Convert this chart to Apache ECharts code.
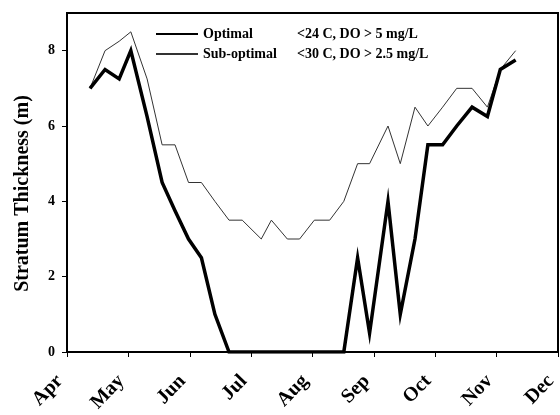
<!DOCTYPE html>
<html>
<head>
<meta charset="utf-8">
<script src="https://cdn.jsdelivr.net/npm/echarts@6/dist/echarts.min.js"></script>
<style>html,body{margin:0;padding:0;background:#fff}#c{width:560px;height:415px}</style>
</head>
<body>
<div id="c"></div>
<script>
// Month tick labels (axis value 0 = Apr, 1 = May, ...)
var months = ['Apr', 'May', 'Jun', 'Jul', 'Aug', 'Sep', 'Oct', 'Nov', 'Dec'];
// Sampling dates, in months after start of April
var sampleDates = [0.375, 0.62, 0.85, 1.04, 1.305, 1.55, 1.76, 1.98, 2.19, 2.41, 2.64,
  2.855, 3.165, 3.33, 3.59, 3.79, 4.03, 4.28, 4.51, 4.735, 4.93, 5.23, 5.43, 5.67,
  5.88, 6.12, 6.35, 6.6, 6.85, 7.06, 7.31];
// Optimal stratum thickness (m)
var optimalValues = [7.0, 7.5, 7.25, 8.0, 6.25, 4.5, 3.75, 3.0, 2.5, 1.0, 0,
  0, 0, 0, 0, 0, 0, 0, 0, 2.5, 0.5, 4.0, 1.0, 3.0,
  5.5, 5.5, 6.0, 6.5, 6.25, 7.5, 7.75];
// Sub-optimal stratum thickness (m)
var subOptimalValues = [7.0, 8.0, 8.25, 8.5, 7.25, 5.5, 5.5, 4.5, 4.5, 4.0, 3.5,
  3.5, 3.0, 3.5, 3.0, 3.0, 3.5, 3.5, 4.0, 5.0, 5.0, 6.0, 5.0, 6.5,
  6.0, 6.5, 7.0, 7.0, 6.5, 7.5, 8.0];
var seriesNames = ['Optimal', 'Sub-optimal'];
var conditions = ['<24 C, DO > 5 mg/L', '<30 C, DO > 2.5 mg/L'];
var yTicks = [0, 2, 4, 6, 8];

function pairs(xs, ys) { return xs.map(function (x, i) { return [x, ys[i]]; }); }

var font = '"Liberation Serif", "DejaVu Serif", serif';
var chart = echarts.init(document.getElementById('c'), null, { renderer: 'canvas' });
chart.setOption({
  animation: false,
  backgroundColor: '#fff',
  grid: { left: 67, right: 2, top: 13, bottom: 63, outerBoundsMode: 'none', containLabel: false,
    show: true, borderColor: '#000', borderWidth: 2, backgroundColor: 'transparent' },
  legend: {
    orient: 'vertical', left: 150, top: 22, itemWidth: 42, itemHeight: 12, itemGap: 6,
    data: seriesNames,
    itemStyle: { opacity: 0 },
    formatter: function (name) {
      return '{a|' + name + '}{b|' + conditions[seriesNames.indexOf(name)] + '}';
    },
    textStyle: {
      fontFamily: font, fontWeight: 'bold', fontSize: 14, color: '#000',
      rich: {
        a: { width: 94, fontFamily: font, fontWeight: 'bold', fontSize: 14, color: '#000' },
        b: { fontFamily: font, fontWeight: 'bold', fontSize: 14, color: '#000' }
      }
    }
  },
  xAxis: {
    type: 'value', min: 0, max: 8, interval: 1,
    axisLine: { show: true, lineStyle: { color: '#000', width: 2 } },
    axisTick: { show: true, inside: false, length: 5, lineStyle: { color: '#000', width: 1 } },
    splitLine: { show: false },
    axisLabel: {
      rotate: 46, margin: 33, verticalAlign: 'bottom',
      fontFamily: font, fontWeight: 'bold', fontSize: 20, color: '#000',
      formatter: function (v) { return months[Math.round(v)] || ''; }
    }
  },
  yAxis: {
    type: 'value', min: 0, max: 9, interval: 2,
    name: 'Stratum Thickness (m)', nameLocation: 'middle', nameGap: 34, nameRotate: 90,
    nameTextStyle: { fontFamily: font, fontWeight: 'bold', fontSize: 20, color: '#000', padding: [0, 22, 0, 0] },
    axisLine: { show: true, lineStyle: { color: '#000', width: 2 } },
    axisTick: { show: true, length: 5, customValues: yTicks, lineStyle: { color: '#000', width: 1 } },
    splitLine: { show: false },
    axisLabel: {
      customValues: yTicks, margin: 12, fontFamily: font, fontWeight: 'bold', fontSize: 14, color: '#000'
    }
  },
  series: [
    {
      name: seriesNames[0], type: 'line', data: pairs(sampleDates, optimalValues),
      showSymbol: false, symbol: 'none', z: 3,
      lineStyle: { color: '#000', width: 3.5, join: 'miter' }, itemStyle: { color: '#000' }
    },
    {
      name: seriesNames[1], type: 'line', data: pairs(sampleDates, subOptimalValues),
      showSymbol: false, symbol: 'none', z: 2,
      lineStyle: { color: '#333', width: 1 }, itemStyle: { color: '#333' }
    }
  ]
});
</script>
</body>
</html>
